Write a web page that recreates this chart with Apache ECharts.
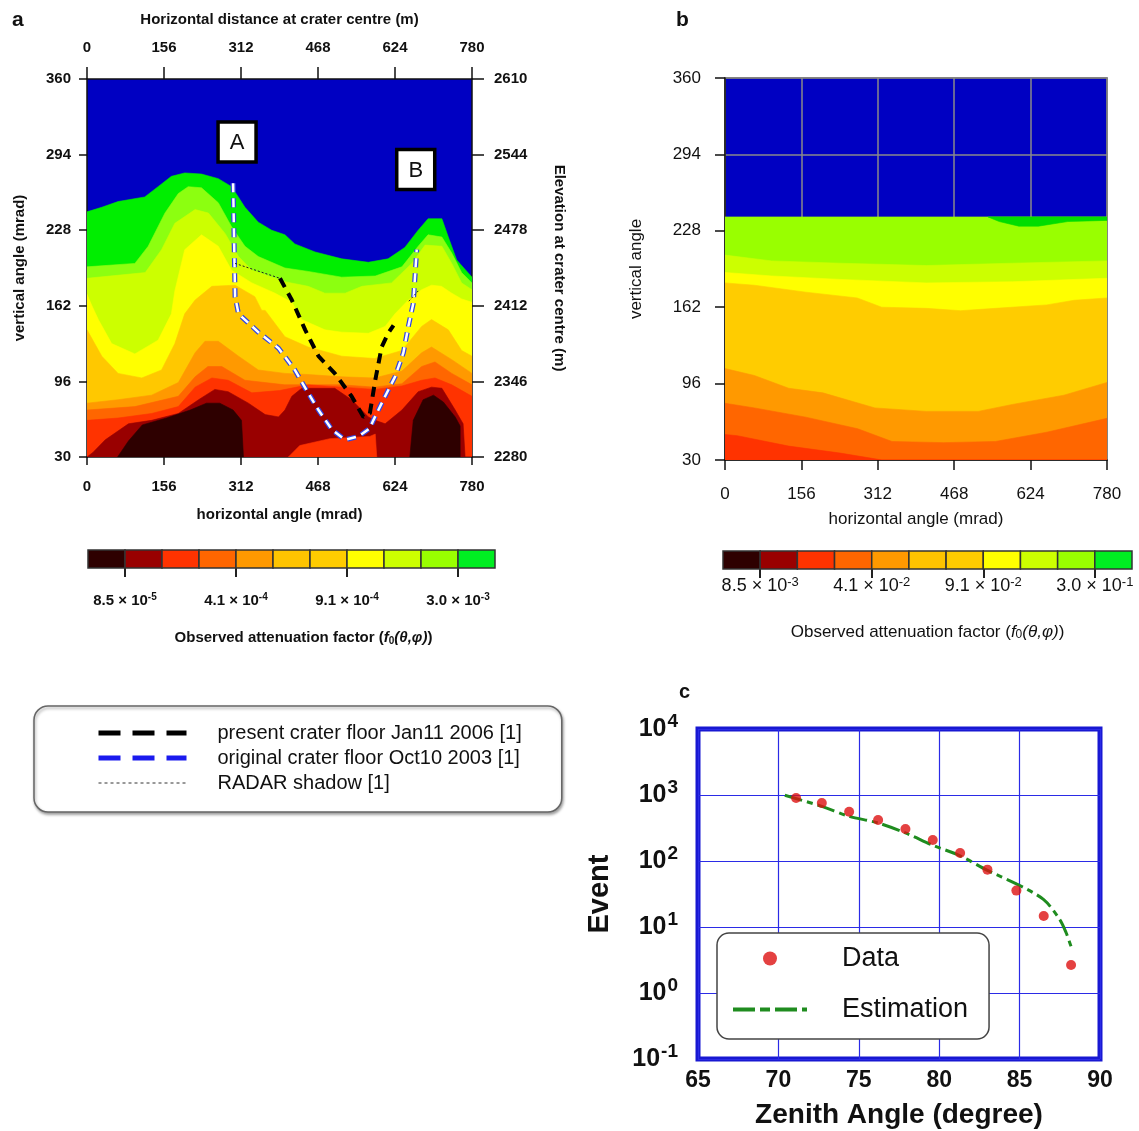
<!DOCTYPE html>
<html>
<head>
<meta charset="utf-8">
<script src="https://cdn.jsdelivr.net/npm/echarts@6/dist/echarts.min.js"></script>
<style>
  html, body { margin: 0; background: #fff; }
  #chart { width: 1139px; height: 1131px; }
</style>
</head>
<body>
<div id="chart"></div>
<script>
// ---- panel a: upper boundary of each attenuation band [horizontal angle, vertical angle] ----
const aGreenTop = [[0,244],[30,248],[63,253],[117,257],[144,266],[171,275],[198,278],[232,277],[266,273],[293,266],[320,248],[347,235],[374,228],[401,224],[421,216],[462,209],[516,203],[570,200],[610,203],[644,213],[671,228],[691,238],[719,238],[732,222],[749,202],[780,187]];
const aLimeTop = [[0,196],[97,199],[124,214],[158,243],[185,260],[205,266],[232,265],[266,252],[293,231],[320,214],[347,205],[401,195],[448,192],[516,187],[584,188],[638,196],[671,214],[691,224],[719,222],[739,208],[759,191],[780,182]];
const aYgTop = [[0,186],[118,191],[151,211],[178,234],[219,246],[246,243],[280,225],[307,205],[334,193],[401,183],[448,179],[482,173],[523,173],[557,179],[617,182],[658,199],[685,215],[719,214],[739,199],[759,182],[780,176]];
const aYellowTop = [[0,172],[10,162],[23,150],[50,129],[97,120],[144,132],[171,155],[178,175],[198,211],[232,224],[266,214],[293,193],[334,182],[381,173],[415,165],[435,150],[482,141],[516,139],[570,138],[604,144],[624,155],[651,167],[678,176],[698,180],[718,179],[739,173],[759,168],[780,165]];
const aGoldTop = [[0,141],[30,118],[63,103],[111,99],[151,106],[178,129],[198,155],[219,167],[253,179],[300,180],[340,170],[354,158],[361,158],[401,135],[448,126],[516,118],[583,116],[638,123],[678,144],[698,150],[732,141],[759,123],[780,118]];
const aOrangeTop = [[0,77],[63,80],[131,84],[185,95],[219,121],[239,131],[266,131],[307,118],[347,106],[401,103],[448,102],[516,100],[583,99],[638,105],[678,121],[698,126],[739,115],[780,103]];
const aDeepOrangeTop = [[0,71],[97,74],[185,83],[219,100],[245,109],[273,109],[320,97],[401,93],[516,93],[583,91],[638,94],[678,109],[705,113],[739,103],[780,93]];
const aRedTop = [[0,62],[63,64],[131,68],[185,74],[219,91],[253,99],[286,97],[334,86],[390,88],[448,93],[516,91],[583,89],[638,92],[678,97],[705,99],[739,93],[780,83]];
const aDarkRedTop = [[0,30],[12,34],[37,45],[84,59],[131,62],[185,68],[226,80],[259,89],[286,87],[327,77],[361,67],[388,65],[401,71],[415,83],[435,90],[502,90],[536,80],[570,65],[584,62],[604,59],[638,71],[671,87],[698,91],[719,90],[746,71],[762,59],[766,30],[780,30]];
const aRedPatch = [[408,30],[431,40],[492,46],[573,48],[584,50],[587,30]];
const aDarkestLeft = [[62,30],[84,44],[112,58],[161,64],[209,71],[242,77],[269,77],[296,71],[313,62],[317,30]];
const aDarkestRight = [[654,30],[661,62],[681,80],[702,84],[722,78],[746,65],[756,57],[756,30]];

// crater floor traces
const originalFloor = [[296,269],[300,170],[307,155],[347,139],[388,125],[421,106],[448,86],[469,71],[496,54],[523,45],[550,48],[573,55],[580,62],[604,83],[624,100],[641,121],[651,144],[661,164],[668,211]];
const presentFloor = [[391,186],[415,167],[442,141],[469,118],[502,103],[536,83],[560,65],[573,68],[584,97],[597,126],[610,138],[621,145]];
const radarShadowA = [[300,199],[391,186]];
const radarShadowB = [[652,166],[671,175]];
const boxNames = ['A', 'B'];
const boxPos = [[304,305],[666,281]];

// ---- panel b: simulated attenuation bands ----
const bLimeTop = [[0,240],[780,240]];
const bGreenPatch = [[537,240],[780,240],[780,237],[700,236],[640,232],[600,232],[560,236]];
const bYgTop = [[0,207],[95,202],[235,200],[411,198],[587,200],[780,202]];
const bYellowTop = [[0,192],[95,189],[235,186],[411,183],[587,184],[780,187]];
const bGoldTop = [[0,183],[60,181],[165,175],[270,170],[320,162],[411,161],[481,159],[552,161],[657,164],[713,168],[780,170]];
const bOrangeTop = [[0,109],[60,103],[130,92],[200,88],[306,75],[411,72],[517,72],[587,78],[692,86],[780,97]];
const bDeepOrangeTop = [[0,79],[60,75],[165,67],[271,57],[341,46],[446,45],[552,46],[657,54],[780,66]];
const bRedTop = [[0,52],[25,51],[130,42],[235,36],[306,31],[320,30],[780,30]];

// ---- colour bars ----
const cbColors = ['#2e0000','#990000','#ff3300','#ff6600','#ff9900','#ffc400','#ffcc00','#ffff00','#ccff00','#99ff00','#00ee22'];
const cbTickPos = [1, 4, 7, 10];
const cbLabelsA = [['8.5','-5'],['4.1','-4'],['9.1','-4'],['3.0','-3']];
const cbLabelsB = [['8.5','-3'],['4.1','-2'],['9.1','-2'],['3.0','-1']];

// ---- panel c: events vs zenith angle ----
const dataAngle = [71.1, 72.7, 74.4, 76.2, 77.9, 79.6, 81.3, 83.0, 84.8, 86.5, 88.2];
const dataEvents = [900, 757, 558, 418, 305, 208, 132, 74, 35.6, 14.7, 2.65];
const estAngle = [70.4, 72.7, 74.4, 76.2, 77.9, 79.6, 81.3, 83.0, 84.8, 86.5, 87.5, 87.9, 88.2, 88.3];
const estEvents = [990, 673, 475, 377, 266, 173, 120, 72, 45, 26, 12.9, 8.1, 5.1, 4.5];

const FONT = "'Liberation Sans', Arial, Helvetica, sans-serif";
const MAP_BLUE = '#0000c2';
const NO_SYMBOL = { color: 'rgba(0,0,0,0)', borderWidth: 0 };

const aLayers = [
  { pts: aGreenTop, color: '#00ee00' },
  { pts: aLimeTop, color: '#8cff10' },
  { pts: aYgTop, color: '#ccff00' },
  { pts: aYellowTop, color: '#ffff00' },
  { pts: aGoldTop, color: '#ffc800' },
  { pts: aOrangeTop, color: '#ff9900' },
  { pts: aDeepOrangeTop, color: '#ff6600' },
  { pts: aRedTop, color: '#ff3300' },
  { pts: aDarkRedTop, color: '#990000' },
  { pts: aRedPatch, color: '#ff3300' },
  { pts: aDarkestLeft, color: '#2e0000' },
  { pts: aDarkestRight, color: '#2e0000' }
];
const bLayers = [
  { pts: bLimeTop, color: '#99ff00' },
  { pts: bGreenPatch, color: '#00dd00', closed: true },
  { pts: bYgTop, color: '#ccff00' },
  { pts: bYellowTop, color: '#ffff00' },
  { pts: bGoldTop, color: '#ffcc00' },
  { pts: bOrangeTop, color: '#ff9900' },
  { pts: bDeepOrangeTop, color: '#ff6600' },
  { pts: bRedTop, color: '#ff3300' }
];

// band = area under the boundary down to the axis minimum (unless closed shape)
function bandRenderer(layers, base) {
  return function (params, api) {
    const l = layers[api.value(2)];
    const pts = l.pts.map(p => api.coord(p));
    if (!l.closed) {
      pts.push(api.coord([l.pts[l.pts.length - 1][0], base]));
      pts.push(api.coord([l.pts[0][0], base]));
    }
    return {
      type: 'polygon',
      shape: { points: pts },
      style: { fill: l.color, stroke: l.color, lineWidth: 0.6 }
    };
  };
}

function colorBarRenderer(params, api) {
  const i = api.value(0);
  const p0 = api.coord([i, 1]);
  const p1 = api.coord([i + 1, 0]);
  return {
    type: 'rect',
    shape: { x: p0[0], y: p0[1], width: p1[0] - p0[0], height: p1[1] - p0[1] },
    style: { fill: cbColors[i], stroke: '#333', lineWidth: 1.5 }
  };
}

const bold15 = { fontFamily: FONT, fontWeight: 'bold', fontSize: 15, color: '#111' };
const reg17 = { fontFamily: FONT, fontSize: 17, color: '#111' };
const blackLine = { lineStyle: { color: '#111', width: 1.5 } };
const plain = v => String(v);

function cbAxis(gridIndex, labels, bold, nameGap, margin) {
  const w = bold ? 'bold' : 'normal';
  const fs = bold ? 15 : 18;
  return {
    gridIndex, type: 'value', min: 0, max: 11,
    axisLine: { show: false, onZero: false },
    axisTick: { customValues: cbTickPos, length: 9, lineStyle: { color: '#222', width: 2 } },
    axisLabel: {
      customValues: cbTickPos, margin,
      formatter: v => {
        const l = labels[cbTickPos.indexOf(v)];
        return '{m|' + l[0] + ' × 10}{s|' + l[1] + '}';
      },
      rich: {
        m: { fontFamily: FONT, fontWeight: w, fontSize: fs, color: '#111' },
        s: { fontFamily: FONT, fontWeight: w, fontSize: fs - 5, color: '#111', padding: [0, 0, 8, 0] }
      }
    },
    splitLine: { show: false },
    name: '{t|Observed attenuation factor (}{i|f}{sub|0}{i|(θ,φ)}{t|)}',
    nameLocation: 'middle', nameGap,
    nameTextStyle: {
      padding: bold ? [0, 0, 0, 24] : 0,
      rich: {
        t: { fontFamily: FONT, fontWeight: w, fontSize: bold ? 15 : 17, color: '#111' },
        i: { fontFamily: FONT, fontWeight: w, fontStyle: 'italic', fontSize: bold ? 15 : 17, color: '#111' },
        sub: { fontFamily: FONT, fontWeight: w, fontSize: bold ? 10 : 12, color: '#111', padding: [6, 0, 0, 0] }
      }
    }
  };
}

const option = {
  animation: false,
  backgroundColor: '#fff',
  title: [
    { text: 'a', left: 12, top: 10, padding: 0, textStyle: { fontFamily: FONT, fontWeight: 'bold', fontSize: 21, color: '#111' } },
    { text: 'b', left: 676, top: 10, padding: 0, textStyle: { fontFamily: FONT, fontWeight: 'bold', fontSize: 21, color: '#111' } },
    { text: 'c', left: 679, top: 682, padding: 0, textStyle: { fontFamily: FONT, fontWeight: 'bold', fontSize: 20, color: '#111' } }
  ],
  grid: [
    { left: 87, top: 79, width: 385, height: 378, show: true, backgroundColor: MAP_BLUE, borderWidth: 0 },
    { left: 725, top: 78, width: 382, height: 382, show: true, backgroundColor: MAP_BLUE, borderColor: '#444', borderWidth: 1.5 },
    { left: 88, top: 550, width: 407, height: 18 },
    { left: 723, top: 551, width: 409, height: 18 },
    { left: 698, top: 729, width: 402, height: 330, show: true, backgroundColor: '#fff', borderColor: '#1818d2', borderWidth: 5 }
  ],
  xAxis: [
    { gridIndex: 0, type: 'value', min: 0, max: 780, interval: 156, position: 'bottom',
      name: 'horizontal angle (mrad)', nameLocation: 'middle', nameGap: 50, nameTextStyle: bold15,
      axisLine: { ...blackLine, onZero: false }, axisTick: { length: 8, ...blackLine },
      axisLabel: { ...bold15, margin: 22 }, splitLine: { show: false } },
    { gridIndex: 0, type: 'value', min: 0, max: 780, interval: 156, position: 'top',
      name: 'Horizontal distance at crater centre (m)', nameLocation: 'middle', nameGap: 52, nameTextStyle: bold15,
      axisLine: { ...blackLine, onZero: false }, axisTick: { length: 12, ...blackLine },
      axisLabel: { ...bold15, margin: 24 }, splitLine: { show: false } },
    { gridIndex: 1, type: 'value', min: 0, max: 780, interval: 156,
      name: 'horizontal angle (mrad)', nameLocation: 'middle', nameGap: 51, nameTextStyle: reg17,
      axisLine: { ...blackLine, onZero: false }, axisTick: { length: 10, ...blackLine },
      axisLabel: { ...reg17, margin: 26 },
      splitLine: { show: true, lineStyle: { color: '#8a8a8a', width: 1.5 } } },
    cbAxis(2, cbLabelsA, true, 62, 24),
    cbAxis(3, cbLabelsB, false, 54, 7),
    { gridIndex: 4, type: 'value', min: 65, max: 90, interval: 5,
      name: 'Zenith Angle (degree)', nameLocation: 'middle', nameGap: 42,
      nameTextStyle: { fontFamily: FONT, fontWeight: 'bold', fontSize: 28, color: '#111' },
      axisLine: { show: false, onZero: false }, axisTick: { show: false },
      axisLabel: { fontFamily: FONT, fontWeight: 'bold', fontSize: 23, color: '#111', margin: 10 },
      splitLine: { show: true, lineStyle: { color: '#2b2be6', width: 1.2 } } }
  ],
  yAxis: [
    { gridIndex: 0, type: 'value', min: 30, max: 360, interval: 66, position: 'left',
      name: 'vertical angle (mrad)', nameLocation: 'middle', nameGap: 60,
      nameTextStyle: { ...bold15, padding: [0, 0, 0, 0] },
      axisLine: { ...blackLine, onZero: false }, axisTick: { length: 8, ...blackLine },
      axisLabel: { ...bold15, margin: 16 }, splitLine: { show: false } },
    { gridIndex: 0, type: 'value', min: 2280, max: 2610, interval: 66, position: 'right',
      name: 'Elevation at crater centre (m)', nameLocation: 'middle', nameGap: 80, nameRotate: -90, nameTextStyle: bold15,
      axisLine: { ...blackLine, onZero: false }, axisTick: { length: 12, ...blackLine },
      axisLabel: { ...bold15, margin: 22, formatter: plain }, splitLine: { show: false } },
    { gridIndex: 1, type: 'value', min: 30, max: 360, interval: 66,
      name: 'vertical angle', nameLocation: 'middle', nameGap: 80, nameTextStyle: reg17,
      axisLine: { ...blackLine, onZero: false }, axisTick: { length: 10, ...blackLine },
      axisLabel: { ...reg17, margin: 24 },
      splitLine: { show: true, lineStyle: { color: '#8a8a8a', width: 1.5 } } },
    { gridIndex: 2, type: 'value', min: 0, max: 1, show: false },
    { gridIndex: 3, type: 'value', min: 0, max: 1, show: false },
    { gridIndex: 4, type: 'log', logBase: 10, min: 0.1, max: 10000,
      name: 'Event', nameLocation: 'middle', nameGap: 84,
      nameTextStyle: { fontFamily: FONT, fontWeight: 'bold', fontSize: 29, color: '#111' },
      axisLine: { show: false }, axisTick: { show: false },
      axisLabel: {
        margin: 20,
        formatter: v => '{b|10}{s|' + Math.round(Math.log10(v)) + '}',
        rich: {
          b: { fontFamily: FONT, fontWeight: 'bold', fontSize: 25, color: '#111' },
          s: { fontFamily: FONT, fontWeight: 'bold', fontSize: 19, color: '#111', padding: [0, 0, 14, 1] }
        }
      },
      splitLine: { show: true, lineStyle: { color: '#2b2be6', width: 1.2 } } }
  ],
  legend: [
    {
      left: 34, top: 706, orient: 'vertical', selectedMode: false,
      itemWidth: 88, itemHeight: 14, itemGap: 3,
      padding: [16, 40, 18, 62],
      backgroundColor: '#fff', borderColor: '#666', borderWidth: 1.5, borderRadius: 14,
      shadowColor: 'rgba(0,0,0,0.35)', shadowOffsetX: 1, shadowOffsetY: 2, shadowBlur: 3,
      textStyle: { fontFamily: FONT, fontSize: 20, lineHeight: 22, color: '#111', padding: [0, 0, 0, 26] },
      data: [
        { name: 'present crater floor Jan11 2006 [1]', itemStyle: NO_SYMBOL, lineStyle: { color: '#000', width: 5, type: [22, 12] } },
        { name: 'original crater floor Oct10 2003 [1]', itemStyle: NO_SYMBOL, lineStyle: { color: '#1a1aee', width: 5, type: [22, 12] } },
        { name: 'RADAR shadow [1]', itemStyle: NO_SYMBOL, lineStyle: { color: '#333', width: 1, type: [3, 3] } }
      ]
    },
    {
      left: 717, top: 933, orient: 'vertical', selectedMode: false,
      itemWidth: 74, itemHeight: 14, itemGap: 24,
      padding: [12, 21, 16, 14],
      backgroundColor: '#fff', borderColor: '#444', borderWidth: 1.5, borderRadius: 12,
      textStyle: { fontFamily: FONT, fontSize: 27, color: '#111', padding: [0, 0, 0, 30] },
      data: [
        { name: 'Data', icon: 'circle', itemStyle: { color: '#dd1111' } },
        { name: 'Estimation', itemStyle: NO_SYMBOL, lineStyle: { color: '#1f8c1f', width: 4, type: [22, 5, 10, 5] } }
      ]
    }
  ],
  series: [
    // panel a contours
    { type: 'custom', xAxisIndex: 0, yAxisIndex: 0, clip: true, silent: true, z: 2,
      renderItem: bandRenderer(aLayers, 30),
      data: aLayers.map((l, i) => [l.pts[0][0], l.pts[0][1], i]) },
    { type: 'line', name: 'original crater floor Oct10 2003 [1]', xAxisIndex: 0, yAxisIndex: 0, z: 5, silent: true,
      data: originalFloor, symbol: 'none', lineStyle: { color: '#3346e0', width: 5, type: [9, 6] } },
    { type: 'line', name: 'originalInner', xAxisIndex: 0, yAxisIndex: 0, z: 6, silent: true,
      data: originalFloor, symbol: 'none', lineStyle: { color: '#ffffff', width: 2.5, type: [9, 6] } },
    { type: 'line', name: 'present crater floor Jan11 2006 [1]', xAxisIndex: 0, yAxisIndex: 0, z: 7, silent: true,
      data: presentFloor, symbol: 'none', lineStyle: { color: '#000', width: 4, type: [10, 7] } },
    { type: 'line', name: 'RADAR shadow [1]', xAxisIndex: 0, yAxisIndex: 0, z: 7, silent: true,
      data: radarShadowA, symbol: 'none', lineStyle: { color: '#222', width: 1, type: [2, 2] } },
    { type: 'line', name: 'RADAR shadow [1]', xAxisIndex: 0, yAxisIndex: 0, z: 7, silent: true,
      data: radarShadowB, symbol: 'none', lineStyle: { color: '#222', width: 1, type: [2, 2] } },
    { type: 'custom', xAxisIndex: 0, yAxisIndex: 0, z: 8, silent: true,
      renderItem: (params, api) => {
        const c = api.coord([api.value(0), api.value(1)]);
        return { type: 'group', children: [
          { type: 'rect', shape: { x: c[0] - 19, y: c[1] - 20, width: 38, height: 40 },
            style: { fill: '#fff', stroke: '#000', lineWidth: 3.5 } },
          { type: 'text', style: { text: boxNames[params.dataIndex], x: c[0], y: c[1] + 1,
            align: 'center', verticalAlign: 'middle', fontFamily: FONT, fontSize: 22, fill: '#111' } }
        ] };
      },
      data: boxPos },
    // panel b contours
    { type: 'custom', xAxisIndex: 2, yAxisIndex: 2, clip: true, silent: true, z: 2,
      renderItem: bandRenderer(bLayers, 30),
      data: bLayers.map((l, i) => [l.pts[0][0], l.pts[0][1], i]) },
    // colour bars
    { type: 'custom', xAxisIndex: 3, yAxisIndex: 3, silent: true, renderItem: colorBarRenderer,
      data: cbColors.map((c, i) => [i, 0]) },
    { type: 'custom', xAxisIndex: 4, yAxisIndex: 4, silent: true, renderItem: colorBarRenderer,
      data: cbColors.map((c, i) => [i, 0]) },
    // panel c
    { type: 'line', name: 'Estimation', xAxisIndex: 5, yAxisIndex: 5, z: 4, silent: true,
      data: estAngle.map((a, i) => [a, estEvents[i]]), symbol: 'none', smooth: 0.3,
      lineStyle: { color: '#1f8c1f', width: 3, type: [18, 5, 6, 5] } },
    { type: 'scatter', name: 'Data', xAxisIndex: 5, yAxisIndex: 5, z: 5, silent: true,
      data: dataAngle.map((a, i) => [a, dataEvents[i]]), symbol: 'circle', symbolSize: 10,
      itemStyle: { color: '#dd1111' } }
  ]
};

const chart = echarts.init(document.getElementById('chart'));
chart.setOption(option);
</script>
</body>
</html>
